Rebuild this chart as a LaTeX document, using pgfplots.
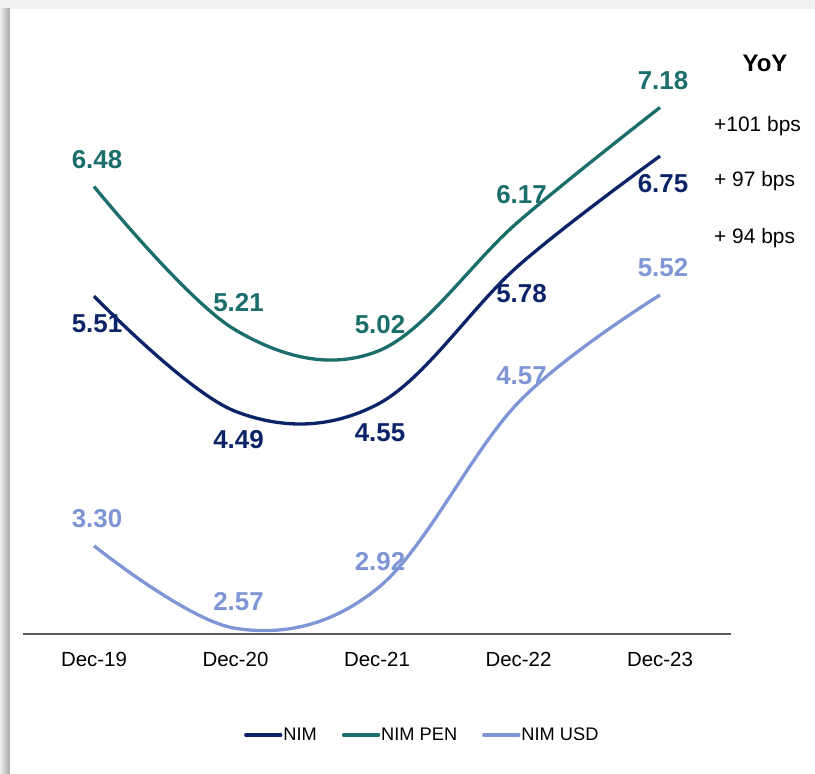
\documentclass[border=0pt]{standalone}
\usepackage{fontspec}
\setmainfont{Liberation Sans}
\usepackage{pgfplots}
\pgfplotsset{compat=1.18}
\definecolor{nim}{HTML}{0B2468}
\definecolor{pen}{HTML}{1B6E6B}
\definecolor{usd}{HTML}{7F96D6}
\definecolor{axgray}{HTML}{5A5A5A}
\begin{document}
\begin{tikzpicture}[x=1bp,y=1bp]
\useasboundingbox (0,0) rectangle (815,774);
\fill[black!6] (0,0) rectangle (815,774);
\shade[left color=black!6, right color=black!35] (0,0) rectangle (10,765);
\fill[white] (10,0) rectangle (815,765);
\begin{axis}[
  at={(23.25bp,140bp)}, anchor=south west,
  scale only axis, width=707.5bp, height=574bp,
  xmin=-0.5, xmax=4.5, ymin=2.52, ymax=7.6,
  clip=false,
  axis y line=none, axis x line*=bottom,
  x axis line style={draw=axgray, line width=1.8bp, -},
  xtick={0,1,2,3,4},
  xticklabels={Dec-19,Dec-20,Dec-21,Dec-22,Dec-23},
  major tick length=0pt,
  xticklabel style={font=\fontsize{20.5}{20.5}\selectfont, text=black, yshift=-15bp},
  /pgf/number format/assume math mode=true,
  nodes near coords={\pgfmathprintnumber[fixed,fixed zerofill,precision=2]{\pgfplotspointmeta}},
  legend columns=3,
  legend style={at={(0.312,-0.176)}, anchor=west, draw=none, fill=none, inner sep=0pt,
    font=\fontsize{18.3}{18.3}\selectfont,
    nodes={inner sep=1bp}, cells={anchor=west},
    /tikz/every even column/.append style={column sep=24bp}},
]
\addplot[nim, line width=3.3bp, smooth, tension=0.6,
  nodes near coords style={font=\bfseries\fontsize{26}{26}\selectfont, text=nim, anchor=center, yshift=-28bp, xshift=3bp},
  legend image code/.code={\draw[nim, line width=3.3bp, line cap=round] (0bp,0bp) -- (35bp,0bp);}]
  coordinates {(0,5.51) (1,4.49) (2,4.55) (3,5.78) (4,6.75)};
\addlegendentry{NIM}
\addplot[pen, line width=3.3bp, smooth, tension=0.6,
  nodes near coords style={font=\bfseries\fontsize{26}{26}\selectfont, text=pen, anchor=center, yshift=27bp, xshift=3bp},
  legend image code/.code={\draw[pen, line width=3.3bp, line cap=round] (0bp,0bp) -- (35bp,0bp);}]
  coordinates {(0,6.48) (1,5.21) (2,5.02) (3,6.17) (4,7.18)};
\addlegendentry{NIM PEN}
\addplot[usd, line width=3.3bp, smooth, tension=0.6,
  nodes near coords style={font=\bfseries\fontsize{26}{26}\selectfont, text=usd, anchor=center, yshift=27bp, xshift=3bp},
  legend image code/.code={\draw[usd, line width=3.3bp, line cap=round] (0bp,0bp) -- (35bp,0bp);}]
  coordinates {(0,3.30) (1,2.57) (2,2.92) (3,4.57) (4,5.52)};
\addlegendentry{NIM USD}
\end{axis}
\node[anchor=base, font=\bfseries\fontsize{24}{24}\selectfont] at (765,702) {YoY};
\node[anchor=base west, inner sep=0pt, font=\fontsize{21}{21}\selectfont] at (714,642) {+101 bps};
\node[anchor=base west, inner sep=0pt, font=\fontsize{21}{21}\selectfont] at (714,587) {+ 97 bps};
\node[anchor=base west, inner sep=0pt, font=\fontsize{21}{21}\selectfont] at (714,530) {+ 94 bps};
\end{tikzpicture}
\end{document}
